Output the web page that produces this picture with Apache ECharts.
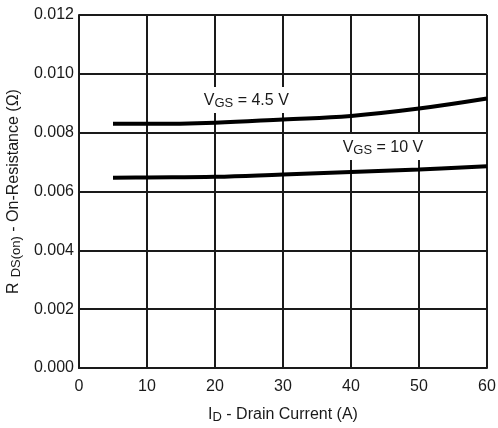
<!DOCTYPE html>
<html>
<head>
<meta charset="utf-8">
<script src="https://cdn.jsdelivr.net/npm/echarts@6/dist/echarts.min.js"></script>
<style>
  html, body { margin: 0; padding: 0; background: #fff; }
  #chart { width: 498px; height: 428px; }
</style>
</head>
<body>
<div id="chart"></div>
<script>
// Drain current (A) sample points
const drainCurrent = [5, 10, 20, 30, 40, 50, 60];
// On-resistance (ohm) for each gate-source voltage
const rdsVgs45 = [0.0083, 0.0083, 0.00834, 0.00845, 0.00857, 0.00882, 0.00916];
const rdsVgs10 = [0.00647, 0.00648, 0.0065, 0.00658, 0.00666, 0.00675, 0.00686];
// Curve annotations: text parts and anchor in data space
const labelVgs45 = { main: 'V', sub: 'GS', rest: ' = 4.5 V', at: [24.6, 0.00911] };
const labelVgs10 = { main: 'V', sub: 'GS', rest: ' = 10 V', at: [44.7, 0.00751] };

const FONT = '"Liberation Sans", Arial, sans-serif';
const INK = '#1a1a1a';

function pairs(xs, ys) { return xs.map((x, i) => [x, ys[i]]); }

const richText = {
  m: { fontFamily: FONT, fontSize: 16, color: INK },
  s: { fontFamily: FONT, fontSize: 13, color: INK, padding: [6, 0, 0, 0] },
  sg: { fontFamily: FONT, fontSize: 13, color: INK, padding: [6, 0, 0, 5] }
};

function tagPoint(lbl) {
  return {
    coord: lbl.at,
    symbol: 'rect',
    symbolSize: 0,
    label: {
      show: true,
      position: 'inside',
      formatter: '{m|' + lbl.main + '}{s|' + lbl.sub + '}{m|' + lbl.rest + '}',
      backgroundColor: '#fff',
      padding: [4, 1, 3, 1],
      rich: richText
    }
  };
}

function curve(name, ys, lbl) {
  return {
    name: name,
    type: 'line',
    data: pairs(drainCurrent, ys),
    smooth: 0.4,
    showSymbol: false,
    lineStyle: { color: '#000', width: 4 },
    markPoint: { silent: true, data: [tagPoint(lbl)] },
    z: 3
  };
}

const chart = echarts.init(document.getElementById('chart'), null, { renderer: 'canvas' });
chart.setOption({
  animation: false,
  backgroundColor: '#fff',
  grid: { left: 79, right: 11, top: 15, bottom: 60, containLabel: false, outerBoundsMode: 'none' },
  xAxis: {
    type: 'value',
    min: 0, max: 60, interval: 10,
    name: '{m|I}{s|D}{m| - Drain Current (A)}',
    nameLocation: 'middle',
    nameGap: 37,
    nameTextStyle: { rich: richText },
    axisLine: { show: true, lineStyle: { color: INK, width: 2 } },
    axisTick: { show: false },
    axisLabel: { margin: 11, fontFamily: FONT, fontSize: 16, color: INK },
    splitLine: { show: true, lineStyle: { color: INK, width: 2 } }
  },
  yAxis: {
    type: 'value',
    min: 0, max: 0.012, interval: 0.002,
    name: '{m|R}{sg|DS(on)}{m| - On-Resistance (Ω)}',
    nameLocation: 'middle',
    nameRotate: 90,
    nameGap: 56,
    nameTextStyle: { rich: richText },
    axisLine: { show: true, lineStyle: { color: INK, width: 2 } },
    axisTick: { show: false },
    axisLabel: {
      margin: 5, fontFamily: FONT, fontSize: 16, color: INK,
      formatter: v => v.toFixed(3)
    },
    splitLine: { show: true, lineStyle: { color: INK, width: 2 } }
  },
  series: [
    curve('VGS = 4.5 V', rdsVgs45, labelVgs45),
    curve('VGS = 10 V', rdsVgs10, labelVgs10)
  ]
});
</script>
</body>
</html>
